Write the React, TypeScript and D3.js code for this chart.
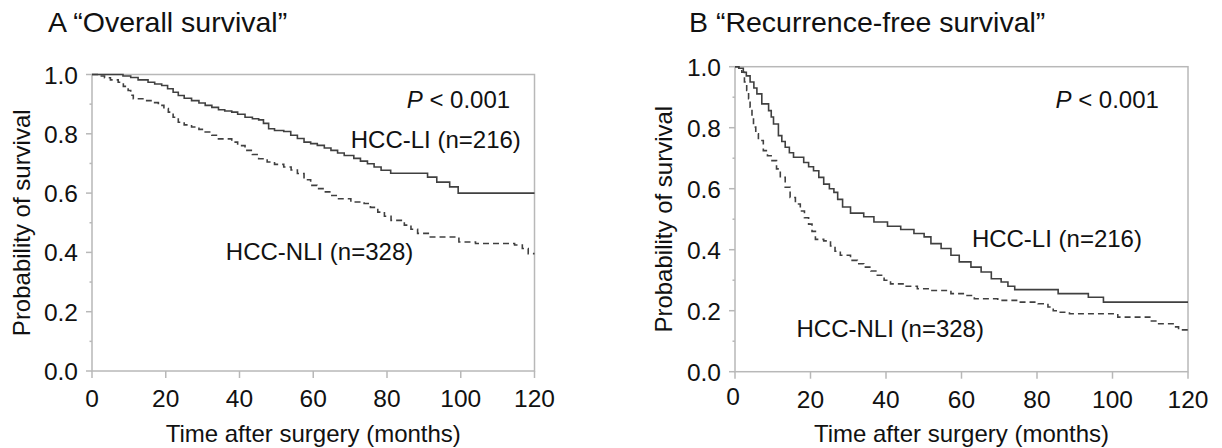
import React, { useRef, useEffect } from "react";
import * as d3 from "d3";

// tick values
const monthTicks = [0, 20, 40, 60, 80, 100, 120];
const probTicks = [0, 0.2, 0.4, 0.6, 0.8, 1.0];
const probMinorTicks = [0.1, 0.3, 0.5, 0.7, 0.9];

// Kaplan-Meier steps: [month, survival]
const osLI: [number, number][] = [
  [0, 1.0], [8.4, 0.995], [10.5, 0.99], [12.5, 0.982], [15.2, 0.974], [17, 0.968],
  [18.9, 0.963], [20.5, 0.952], [22, 0.94], [23.4, 0.929], [25, 0.92], [27, 0.912],
  [29, 0.904], [30.7, 0.896], [32.5, 0.889], [34.3, 0.881], [36, 0.877], [37.9, 0.873],
  [39.5, 0.866], [41.5, 0.856], [43.5, 0.851], [45.2, 0.847], [46.5, 0.835], [47.9, 0.817],
  [49.5, 0.811], [52, 0.808], [53.9, 0.795], [55.7, 0.784], [57.5, 0.772], [59.3, 0.767],
  [61.1, 0.761], [63, 0.752], [64.8, 0.744], [66.6, 0.735], [68.4, 0.727], [71, 0.717],
  [72.8, 0.708], [74.7, 0.699], [76.5, 0.688], [78.4, 0.677], [81, 0.667], [91, 0.654],
  [93.5, 0.637], [97, 0.621], [99.3, 0.6], [120, 0.6],
];
const osNLI: [number, number][] = [
  [0, 1.0], [2, 0.995], [3.4, 0.989], [5, 0.982], [7.1, 0.974], [8.5, 0.96], [9.8, 0.946],
  [10.5, 0.93], [11.2, 0.918], [14.3, 0.912], [16, 0.905], [18, 0.896], [19.5, 0.885],
  [20.7, 0.873], [22, 0.856], [23.4, 0.839], [25, 0.83], [27, 0.823], [29, 0.815],
  [30.7, 0.806], [32.5, 0.795], [34.3, 0.783], [37.9, 0.772], [39.5, 0.76], [41.5, 0.744],
  [43.5, 0.73], [45.2, 0.716], [47.5, 0.705], [49.5, 0.697], [52, 0.688], [54, 0.678],
  [55.7, 0.666], [57.5, 0.645], [59.3, 0.626], [61, 0.615], [62.9, 0.604], [64.8, 0.592],
  [66.6, 0.581], [70.2, 0.57], [73.8, 0.565], [75.5, 0.552], [77.5, 0.536], [79.3, 0.522],
  [81.1, 0.508], [84.7, 0.492], [86.5, 0.478], [88.3, 0.464], [91.5, 0.452], [99.5, 0.435],
  [104, 0.43], [114.6, 0.425], [116.7, 0.413], [118.3, 0.396], [120, 0.396],
];
const rfsLI: [number, number][] = [
  [0, 1.0], [1, 0.995], [2.2, 0.982], [3, 0.97], [4, 0.95], [5, 0.93], [5.8, 0.911],
  [7.1, 0.878], [8.9, 0.856], [9.6, 0.835], [10.2, 0.812], [11.5, 0.774], [12.4, 0.755],
  [13.3, 0.736], [14.4, 0.718], [15.5, 0.703], [18.2, 0.686], [19.5, 0.672], [20.8, 0.659],
  [22.2, 0.637], [23.5, 0.615], [25, 0.6], [26.2, 0.588], [27.2, 0.565], [28.5, 0.54],
  [30.6, 0.52], [34.1, 0.508], [36.8, 0.491], [40.4, 0.477], [43.9, 0.466], [47.4, 0.453],
  [50.1, 0.442], [51.9, 0.42], [54.6, 0.404], [57.2, 0.382], [59.4, 0.36], [62.5, 0.343],
  [65.2, 0.327], [67.9, 0.305], [70.5, 0.294], [72.3, 0.28], [74.1, 0.269], [85.6, 0.256],
  [93.6, 0.244], [97.6, 0.228], [120, 0.228],
];
const rfsNLI: [number, number][] = [
  [0, 1.0], [1, 0.99], [1.8, 0.982], [2.5, 0.95], [3.1, 0.922], [3.6, 0.895], [4, 0.867],
  [4.5, 0.835], [4.9, 0.802], [5.5, 0.78], [6.2, 0.758], [7.5, 0.725], [8.6, 0.708],
  [9.8, 0.692], [11, 0.665], [12, 0.637], [13.3, 0.605], [14.6, 0.571], [16, 0.55],
  [17.3, 0.527], [18.4, 0.505], [19.5, 0.484], [20.4, 0.46], [21.3, 0.434], [23.5, 0.429],
  [25.3, 0.412], [26.5, 0.395], [27.9, 0.382], [30.6, 0.365], [32.4, 0.354], [34.1, 0.343],
  [36, 0.33], [37.7, 0.316], [39.5, 0.3], [41.2, 0.288], [44.8, 0.28], [48.3, 0.272],
  [51.9, 0.266], [57.2, 0.256], [60.8, 0.25], [63.4, 0.239], [69.6, 0.234], [75, 0.228],
  [80.3, 0.223], [82.9, 0.212], [84.3, 0.2], [85.6, 0.195], [88.6, 0.19], [101.4, 0.179],
  [110.3, 0.166], [112, 0.157], [116.5, 0.147], [117.5, 0.137], [120, 0.137],
];

const panels = [
  {
    title: "A \u201cOverall survival\u201d",
    li: osLI,
    nli: osNLI,
    box: { left: 92, right: 534.5, top: 74.5, bottom: 371 },
    titleX: 48,
    yTitleX: 30,
    pLabel: [113.4, 0.887],
    liLabel: [116.3, 0.752],
    nliLabel: [36.3, 0.374],
  },
  {
    title: "B \u201cRecurrence-free survival\u201d",
    li: rfsLI,
    nli: rfsNLI,
    box: { left: 735, right: 1188, top: 66.7, bottom: 371.7 },
    titleX: 689,
    yTitleX: 672,
    pLabel: [112.3, 0.865],
    liLabel: [107.8, 0.409],
    nliLabel: [16.3, 0.114],
  },
];

const FONT = "'Liberation Sans', Arial, Helvetica, sans-serif";
const AXIS = "#b8b8b8";
const INK = "#404040";

const App = () => {
  const svgRef = useRef<SVGSVGElement>(null);

  useEffect(() => {
    const svg = d3.select(svgRef.current);
    svg.selectAll("*").remove();

    panels.forEach((p) => {
      const { left, right, top, bottom } = p.box;
      const x = d3.scaleLinear().domain([0, 120]).range([left, right]);
      const y = d3.scaleLinear().domain([0, 1]).range([bottom, top]);
      const g = svg.append("g");

      // title
      g.append("text")
        .attr("x", p.titleX)
        .attr("y", 32)
        .attr("font-size", 28.5)
        .attr("fill", "#111")
        .text(p.title);

      // frame
      g.append("rect")
        .attr("x", left)
        .attr("y", top)
        .attr("width", right - left)
        .attr("height", bottom - top)
        .attr("fill", "none")
        .attr("stroke", AXIS)
        .attr("stroke-width", 1.5);

      // x ticks
      monthTicks.forEach((m, i) => {
        g.append("line")
          .attr("x1", x(m))
          .attr("x2", x(m))
          .attr("y1", bottom)
          .attr("y2", bottom + 7)
          .attr("stroke", AXIS)
          .attr("stroke-width", 1.5);
        const raise = p.title.startsWith("B") && i === 0;
        g.append("text")
          .attr("x", x(m) - (raise ? 2 : 0))
          .attr("y", bottom + (raise ? 33 : 36))
          .attr("text-anchor", "middle")
          .attr("font-size", 24.5)
          .attr("fill", "#111")
          .text(m);
      });

      // y ticks
      probTicks.forEach((v) => {
        g.append("line")
          .attr("x1", left - 6)
          .attr("x2", left)
          .attr("y1", y(v))
          .attr("y2", y(v))
          .attr("stroke", AXIS)
          .attr("stroke-width", 1.5);
        g.append("text")
          .attr("x", left - 14)
          .attr("y", y(v) + 9)
          .attr("text-anchor", "end")
          .attr("font-size", 24.5)
          .attr("fill", "#111")
          .text(d3.format(".1f")(v));
      });
      probMinorTicks.forEach((v) => {
        g.append("line")
          .attr("x1", left - 2.5)
          .attr("x2", left)
          .attr("y1", y(v))
          .attr("y2", y(v))
          .attr("stroke", AXIS)
          .attr("stroke-width", 1.5);
      });

      // axis titles
      g.append("text")
        .attr("x", (left + right) / 2)
        .attr("y", 441.5)
        .attr("text-anchor", "middle")
        .attr("font-size", 24)
        .attr("fill", "#111")
        .text("Time after surgery (months)");
      g.append("text")
        .attr("transform", `translate(${p.yTitleX},${(top + bottom) / 2}) rotate(-90)`)
        .attr("text-anchor", "middle")
        .attr("font-size", 24)
        .attr("fill", "#111")
        .text("Probability of survival");

      // survival curves
      const line = d3
        .line<[number, number]>()
        .x((d) => x(d[0]))
        .y((d) => y(d[1]))
        .curve(d3.curveStepAfter);

      g.append("path")
        .datum(p.nli)
        .attr("d", line)
        .attr("fill", "none")
        .attr("stroke", INK)
        .attr("stroke-width", 1.6)
        .attr("stroke-dasharray", "6,4");

      g.append("path")
        .datum(p.li)
        .attr("d", line)
        .attr("fill", "none")
        .attr("stroke", INK)
        .attr("stroke-width", 1.6);

      // annotations
      const pText = g
        .append("text")
        .attr("x", x(p.pLabel[0]))
        .attr("y", y(p.pLabel[1]))
        .attr("text-anchor", "end")
        .attr("font-size", 24)
        .attr("fill", "#111");
      pText.append("tspan").attr("font-style", "italic").text("P");
      pText.append("tspan").text(" < 0.001");

      g.append("text")
        .attr("x", x(p.liLabel[0]))
        .attr("y", y(p.liLabel[1]))
        .attr("text-anchor", "end")
        .attr("font-size", 24)
        .attr("fill", "#111")
        .text("HCC-LI (n=216)");

      g.append("text")
        .attr("x", x(p.nliLabel[0]))
        .attr("y", y(p.nliLabel[1]))
        .attr("font-size", 24)
        .attr("fill", "#111")
        .text("HCC-NLI (n=328)");
    });
  }, []);

  return (
    <svg
      ref={svgRef}
      width={1222}
      height={448}
      style={{ position: "absolute", left: 0, top: 0, background: "#fff", fontFamily: FONT }}
    />
  );
};

export default App;
